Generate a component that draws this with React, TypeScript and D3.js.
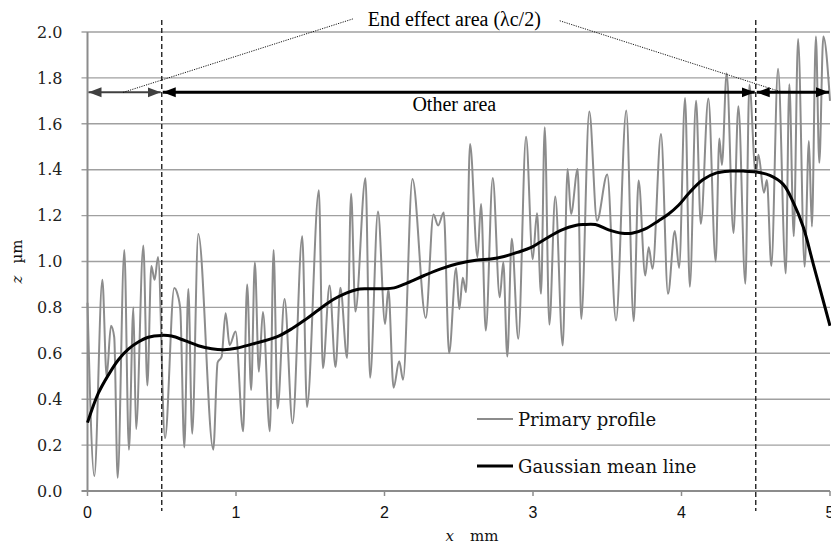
import { useEffect, useRef } from 'react';
import * as d3 from 'd3';

// primary profile, read at its turning points (x in mm, z in µm)
const profileX = [
  0.000, 0.046, 0.100, 0.129, 0.158, 0.180, 0.203, 0.248, 0.279, 0.309, 0.327, 0.376, 0.403, 0.430, 0.452, 0.475,
  0.522, 0.584, 0.605, 0.625, 0.652, 0.679, 0.705, 0.746, 0.847, 0.876, 0.903, 0.930, 0.957, 0.997,
  1.048, 1.075, 1.102, 1.127, 1.154, 1.181, 1.228, 1.253, 1.280, 1.327, 1.381, 1.446, 1.478, 1.558, 1.585,
  1.630, 1.670, 1.703, 1.748, 1.775, 1.804, 1.872, 1.903, 1.956, 2.004, 2.026, 2.061, 2.099, 2.125, 2.188,
  2.278, 2.330, 2.361, 2.399, 2.435, 2.482, 2.504, 2.527, 2.549, 2.576, 2.626, 2.650, 2.682, 2.729, 2.776,
  2.800, 2.827, 2.857, 2.901, 2.953, 2.998, 3.027, 3.054, 3.079, 3.110, 3.150, 3.200, 3.233, 3.256, 3.301,
  3.325, 3.379, 3.431, 3.500, 3.559, 3.628, 3.678, 3.711, 3.756, 3.779, 3.805, 3.862, 3.909, 3.955, 3.984,
  4.024, 4.056, 4.098, 4.130, 4.181, 4.230, 4.255, 4.272, 4.304, 4.350, 4.383, 4.430, 4.457, 4.500, 4.518,
  4.555, 4.575, 4.605, 4.650, 4.702, 4.726, 4.756, 4.785, 4.829, 4.858, 4.878, 4.905, 4.928, 4.955, 5.000,
];
const profileZ = [
  0.82, 0.065, 0.92, 0.50, 0.72, 0.67, 0.058, 1.05, 0.18, 0.80, 0.27, 1.07, 0.46, 0.98, 0.92, 1.02,
  0.23, 0.885, 0.86, 0.79, 0.19, 0.88, 0.25, 1.12, 0.18, 0.56, 0.585, 0.775, 0.636, 0.695,
  0.26, 0.90, 0.44, 0.996, 0.52, 0.78, 0.26, 1.05, 0.36, 0.837, 0.295, 1.11, 0.366, 1.31, 0.535,
  0.895, 0.54, 0.886, 0.58, 1.295, 0.782, 1.363, 0.494, 1.218, 0.728, 0.88, 0.45, 0.565, 0.485, 1.36,
  0.754, 1.205, 1.157, 1.213, 0.60, 0.972, 0.793, 0.929, 0.866, 1.512, 1.019, 1.251, 0.699, 1.364, 0.844,
  0.997, 0.586, 1.099, 0.663, 1.544, 1.01, 1.21, 0.859, 1.585, 0.725, 1.283, 0.634, 1.403, 1.207, 1.403,
  0.75, 1.654, 1.178, 1.379, 0.743, 1.658, 0.74, 1.353, 0.939, 1.062, 0.968, 1.556, 0.859, 1.133, 0.972,
  1.712, 0.89, 1.70, 1.164, 1.71, 1.0, 1.536, 1.42, 1.82, 1.124, 1.677, 0.903, 1.77, 1.38, 1.465,
  1.30, 1.355, 0.98, 1.84, 0.948, 1.772, 1.11, 1.97, 0.977, 1.525, 1.152, 1.98, 1.43, 1.98, 1.70,
];

// gaussian mean line
const meanX = [
  0, 0.073, 0.14, 0.207, 0.275, 0.342, 0.409, 0.499, 0.566, 0.656, 0.746, 0.836, 0.92, 1.0, 1.114, 1.27,
  1.383, 1.472, 1.562, 1.652, 1.742, 1.809, 1.876, 1.988, 2.065, 2.154, 2.267, 2.379, 2.491, 2.626, 2.715,
  2.805, 2.895, 2.984, 3.083, 3.195, 3.285, 3.341, 3.42, 3.509, 3.6, 3.666, 3.756, 3.846, 3.913, 3.98,
  4.057, 4.146, 4.236, 4.326, 4.416, 4.505, 4.595, 4.685, 4.752, 4.82, 4.887, 4.954, 5.0,
];
const meanZ = [
  0.298, 0.426, 0.505, 0.571, 0.618, 0.649, 0.67, 0.678, 0.675, 0.655, 0.633, 0.62, 0.616, 0.622, 0.641, 0.67,
  0.71, 0.749, 0.792, 0.833, 0.862, 0.877, 0.881, 0.881, 0.885, 0.907, 0.939, 0.968, 0.99, 1.007, 1.011,
  1.022, 1.04, 1.06, 1.098, 1.138, 1.157, 1.161, 1.161, 1.138, 1.123, 1.123, 1.142, 1.178, 1.207, 1.245,
  1.303, 1.357, 1.386, 1.394, 1.394, 1.39, 1.375, 1.336, 1.259, 1.15, 0.99, 0.83, 0.72,
];

const xTicks = [0, 1, 2, 3, 4, 5];
const yTicks = [0, 0.2, 0.4, 0.6, 0.8, 1.0, 1.2, 1.4, 1.6, 1.8, 2.0];

// area bounds (end effect = λc/2 at each end) and where the arrows sit
const areaBounds = [0, 0.5, 4.5, 5];
const arrowZ = 1.737;
const leaderLeft = [[0.24, 1.737], [1.787, 2.057]];
const leaderRight = [[3.18, 2.049], [4.68, 1.737]];

const seriesNames = ['Primary profile', 'Gaussian mean line'];

export default function App() {
  const svgRef = useRef(null);

  useEffect(() => {
    const width = 831;
    const height = 549;
    const left = 87.5;
    const right = 830;
    const top = 32;
    const bottom = 491;

    const svg = d3.select(svgRef.current)
      .attr('width', width)
      .attr('height', height);
    svg.selectAll('*').remove();

    const x = d3.scaleLinear().domain([0, 5]).range([left, right]);
    const y = d3.scaleLinear().domain([0, 2]).range([bottom, top]);

    const serif = 'DejaVu Serif, Liberation Serif, Times New Roman, serif';
    const times = 'Liberation Serif, Times New Roman, DejaVu Serif, serif';

    // arrow heads
    const defs = svg.append('defs');
    [['headBlack', '#000'], ['headGray', '#404040']].forEach(([id, c]) => {
      defs.append('marker')
        .attr('id', id)
        .attr('markerUnits', 'userSpaceOnUse')
        .attr('markerWidth', 14)
        .attr('markerHeight', 11)
        .attr('refX', 13)
        .attr('refY', 5.5)
        .attr('orient', 'auto-start-reverse')
        .append('path')
        .attr('d', 'M0,0.5 L13,5.5 L0,10.5 Z')
        .attr('fill', c);
    });

    // grid
    svg.append('g')
      .selectAll('line')
      .data(yTicks.filter(d => d > 0))
      .enter().append('line')
      .attr('x1', left - 6)
      .attr('x2', right)
      .attr('y1', d => y(d))
      .attr('y2', d => y(d))
      .attr('stroke', '#a0a0a0')
      .attr('stroke-width', 1.4);

    // axes lines
    svg.append('line')
      .attr('x1', left - 6).attr('x2', right)
      .attr('y1', bottom).attr('y2', bottom)
      .attr('stroke', '#8c8c8c').attr('stroke-width', 2);
    svg.append('line')
      .attr('x1', left).attr('x2', left)
      .attr('y1', top).attr('y2', bottom)
      .attr('stroke', '#8c8c8c').attr('stroke-width', 2);

    svg.append('g')
      .selectAll('line')
      .data(xTicks)
      .enter().append('line')
      .attr('x1', d => x(d)).attr('x2', d => x(d))
      .attr('y1', bottom).attr('y2', bottom + 5)
      .attr('stroke', '#8c8c8c').attr('stroke-width', 1.5);

    // tick labels
    svg.append('g')
      .selectAll('text')
      .data(yTicks)
      .enter().append('text')
      .attr('x', left - 25)
      .attr('y', d => y(d))
      .attr('dy', '0.36em')
      .attr('text-anchor', 'end')
      .attr('font-family', serif)
      .attr('font-size', 16)
      .attr('fill', '#222')
      .text(d => d.toFixed(1));

    svg.append('g')
      .selectAll('text')
      .data(xTicks)
      .enter().append('text')
      .attr('x', d => x(d))
      .attr('y', bottom + 27)
      .attr('text-anchor', 'middle')
      .attr('font-family', 'Liberation Sans, Arial, sans-serif')
      .attr('font-size', 16)
      .attr('fill', '#111')
      .text(d => d);

    // axis titles
    const xt = svg.append('text')
      .attr('x', 472)
      .attr('y', bottom + 50)
      .attr('text-anchor', 'middle')
      .attr('font-family', serif)
      .attr('font-size', 15)
      .attr('fill', '#111');
    xt.append('tspan').attr('font-style', 'italic').text('x');
    xt.append('tspan').attr('dx', 16).text('mm');

    const yt = svg.append('text')
      .attr('transform', `translate(22,${(top + bottom) / 2}) rotate(-90)`)
      .attr('text-anchor', 'middle')
      .attr('font-family', serif)
      .attr('font-size', 15)
      .attr('fill', '#111');
    yt.append('tspan').attr('font-style', 'italic').text('z');
    yt.append('tspan').attr('dx', 12).text('µm');

    // series
    const line = d3.line()
      .x(d => x(d[0]))
      .y(d => y(d[1]))
      .curve(d3.curveMonotoneX);

    const smooth = d3.line()
      .x(d => x(d[0]))
      .y(d => y(d[1]))
      .curve(d3.curveCatmullRom.alpha(0.5));

    svg.append('path')
      .datum(profileX.map((v, i) => [v, profileZ[i]]))
      .attr('d', line)
      .attr('fill', 'none')
      .attr('stroke', '#8c8c8c')
      .attr('stroke-width', 2);

    svg.append('path')
      .datum(meanX.map((v, i) => [v, meanZ[i]]))
      .attr('d', smooth)
      .attr('fill', 'none')
      .attr('stroke', '#000')
      .attr('stroke-width', 3);

    // dashed bounds of the end effect areas
    svg.append('g')
      .selectAll('line')
      .data(areaBounds.slice(1, 3))
      .enter().append('line')
      .attr('x1', d => x(d)).attr('x2', d => x(d))
      .attr('y1', 20).attr('y2', bottom + 20)
      .attr('stroke', '#222')
      .attr('stroke-width', 1.4)
      .attr('stroke-dasharray', '5,3');

    // area arrows
    const segs = d3.pairs(areaBounds);
    svg.append('g')
      .selectAll('line')
      .data(segs)
      .enter().append('line')
      .attr('x1', d => x(d[0]) + 1)
      .attr('x2', d => x(d[1]) - 1)
      .attr('y1', y(arrowZ))
      .attr('y2', y(arrowZ))
      .attr('stroke', (d, i) => (i === 0 ? '#404040' : '#000'))
      .attr('stroke-width', (d, i) => (i === 0 ? 2 : 3))
      .attr('marker-start', (d, i) => (i === 0 ? 'url(#headGray)' : 'url(#headBlack)'))
      .attr('marker-end', (d, i) => (i === 0 ? 'url(#headGray)' : 'url(#headBlack)'));

    // leaders to the end effect label
    svg.append('g')
      .selectAll('line')
      .data([leaderLeft, leaderRight])
      .enter().append('line')
      .attr('x1', d => x(d[0][0])).attr('y1', d => y(d[0][1]))
      .attr('x2', d => x(d[1][0])).attr('y2', d => y(d[1][1]))
      .attr('stroke', '#000')
      .attr('stroke-width', 0.9)
      .attr('stroke-dasharray', '1.2,1.2');

    svg.append('text')
      .attr('x', x(2.47))
      .attr('y', 26)
      .attr('text-anchor', 'middle')
      .attr('font-family', times)
      .attr('font-size', 20)
      .attr('fill', '#000')
      .text('End effect area (λc/2)');

    svg.append('text')
      .attr('x', x(2.47))
      .attr('y', 111)
      .attr('text-anchor', 'middle')
      .attr('font-family', times)
      .attr('font-size', 20)
      .attr('fill', '#000')
      .text('Other area');

    // legend
    const legend = svg.append('g').attr('transform', 'translate(477,419)');
    seriesNames.forEach((name, i) => {
      const g = legend.append('g').attr('transform', `translate(0,${i * 47})`);
      g.append('line')
        .attr('x1', 0).attr('x2', 36)
        .attr('stroke', i === 0 ? '#8c8c8c' : '#000')
        .attr('stroke-width', i === 0 ? 2 : 3);
      g.append('text')
        .attr('x', 41)
        .attr('y', 7)
        .attr('font-family', serif)
        .attr('font-size', 18)
        .attr('fill', '#111')
        .text(name);
    });

    return () => {
      svg.selectAll('*').remove();
    };
  }, []);

  return (
    <svg ref={svgRef} style={{ position: 'absolute', left: 0, top: 0, background: '#fff' }}></svg>
  );
}
